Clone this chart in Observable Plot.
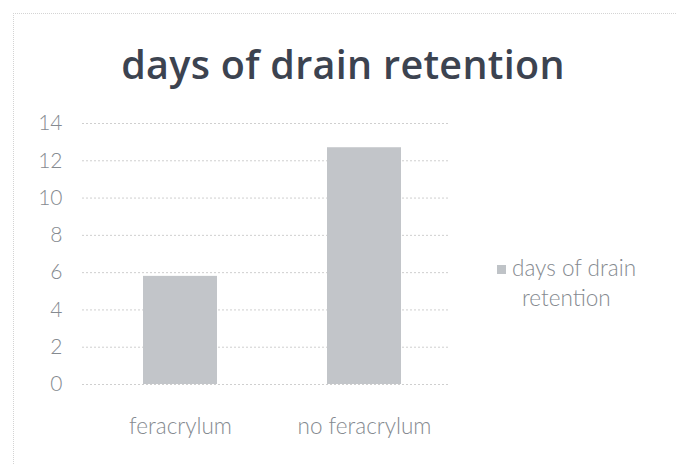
<!DOCTYPE html>
<html>
<head>
<meta charset="utf-8">
<script src="https://cdn.jsdelivr.net/npm/d3@7"></script>
<script src="https://cdn.jsdelivr.net/npm/@observablehq/plot@0.6"></script>
<style>
  html, body { margin: 0; padding: 0; background: #fff; }
  #wrap { position: relative; width: 677px; height: 465px; overflow: hidden; background: #fff; }
  #frame { position: absolute; left: 13px; top: 13px; width: 670px; height: 460px; border-left: 1px dotted #d4d4d4; border-top: 1px dotted #d4d4d4; }
  #title { position: absolute; left: 0; top: 37px; width: 686px; text-align: center; font-family: "Open Sans", sans-serif; font-weight: 600; font-size: 39.5px; color: #3c4350; letter-spacing: 0.3px; }
  #legend { position: absolute; left: 497px; top: 253px; font-family: Lato, "Open Sans", sans-serif; font-weight: 300; font-size: 22.5px; color: #858a90; line-height: 30px; }
  #legend .sw { display: inline-block; width: 9px; height: 9px; background: #bfc3c7; margin-right: 6px; vertical-align: 2px; }
  #legend .l2 { padding-left: 25px; }
  #chart { position: absolute; left: 0; top: 0; }
</style>
</head>
<body>
<div id="wrap">
  <div id="frame"></div>
  <div id="chart"></div>
  <div id="title">days of drain retention</div>
  <div id="legend"><div><span class="sw"></span>days of drain</div><div class="l2">retention</div></div>
</div>
<script>
const categories = ["feracrylum", "no feracrylum"];
const values = [5.8, 12.7];
const yTicks = [0, 2, 4, 6, 8, 10, 12, 14];

const data = categories.map((c, i) => ({category: c, value: values[i]}));

const plot = Plot.plot({
  width: 677,
  height: 465,
  marginTop: 123,
  marginBottom: 81,
  marginLeft: 82,
  marginRight: 227,
  style: {background: "transparent", fontFamily: "Lato, 'Open Sans', sans-serif"},
  x: {domain: categories, paddingInner: 0.6, paddingOuter: 0.3, align: 0.55, label: null},
  y: {domain: [0, 14], ticks: yTicks, label: null},
  marks: [
    Plot.gridY(yTicks, {stroke: "#cfcfcf", strokeOpacity: 1, strokeDasharray: "2,2"}),
    Plot.barY(data, {x: "category", y: "value", fill: "#c2c5c9"}),
    Plot.axisY(yTicks, {tickSize: 0, tickPadding: 20, fontSize: 21, fontWeight: 300, fill: "#858a90", label: null}),
    Plot.axisX({tickSize: 0, tickPadding: 34, fontSize: 22.5, fontWeight: 300, fill: "#858a90", label: null})
  ]
});
document.getElementById("chart").appendChild(plot);
</script>
</body>
</html>
